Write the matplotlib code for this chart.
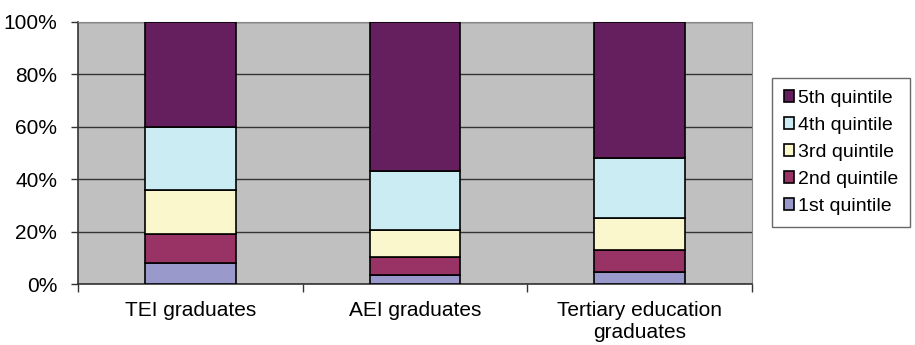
import matplotlib.pyplot as plt
import numpy as np

plt.rcParams['font.family'] = ['Liberation Sans', 'DejaVu Sans']

# shares of graduates by income quintile (%)
categories = ['TEI graduates', 'AEI graduates', 'Tertiary education\ngraduates']
quintiles = ['1st quintile', '2nd quintile', '3rd quintile', '4th quintile', '5th quintile']
q1 = [7.9, 3.4, 4.7]
q2 = [11.2, 7.0, 8.3]
q3 = [16.6, 10.3, 12.0]
q4 = [24.1, 22.5, 23.2]
q5 = [40.2, 56.8, 51.8]
colors = ['#9999CC', '#993366', '#FBF7CC', '#CCECF4', '#661F5E']

fig = plt.figure(figsize=(9.15, 3.45), dpi=100)
ax = fig.add_axes([78 / 915, 1 - 284 / 345, 674 / 915, 262.3 / 345])
ax.set_facecolor('#C0C0C0')

x = np.arange(len(categories))
bottom = np.zeros(len(categories))
handles = []
for vals, lab, col in zip([q1, q2, q3, q4, q5], quintiles, colors):
    b = ax.bar(x, vals, width=0.405, bottom=bottom, color=col,
               edgecolor='black', linewidth=1.2, label=lab, zorder=3)
    handles.append(b)
    bottom += np.array(vals)

ax.set_xlim(-0.5, len(categories) - 0.5)
ax.set_ylim(0, 100)
ax.set_yticks(range(0, 101, 20))
ax.set_yticklabels([f'{v}%' for v in range(0, 101, 20)], fontsize=15)
ax.yaxis.grid(True, color='#333333', linewidth=1.0, zorder=0)
ax.set_axisbelow(True)

ax.set_xticks(x)
ax.set_xticklabels(categories, fontsize=15, linespacing=1.25)
ax.tick_params(axis='x', length=0, pad=12)
ax.set_xticks(np.arange(-0.5, len(categories)), minor=True)
ax.tick_params(axis='x', which='minor', length=6, width=1, color='#333333')
ax.tick_params(axis='y', length=5, width=1, color='#333333', pad=10)

for side in ['top', 'right']:
    ax.spines[side].set_color('#888888')
for side in ['left', 'bottom']:
    ax.spines[side].set_color('#333333')
    ax.spines[side].set_linewidth(1.2)

leg = fig.legend(handles[::-1], quintiles[::-1], loc='upper left',
                 bbox_to_anchor=(772 / 915, 1 - 78 / 345), fontsize=14,
                 frameon=True, fancybox=False, edgecolor='#444444',
                 handlelength=0.55, handleheight=0.55, handletextpad=0.2,
                 labelspacing=0.52, borderpad=0.6, borderaxespad=0)
leg.get_frame().set_linewidth(1.0)

fig.savefig('out.png', dpi=100)
